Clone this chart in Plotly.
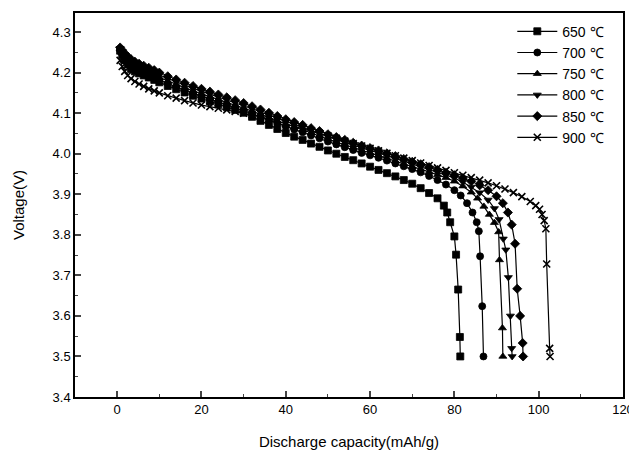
import plotly.graph_objects as go

# Shared capacity grid (mAh/g) for the plateau region
cap_common = [0.7, 1.2, 1.8, 2.5, 3.3, 4.2, 5.2, 6.3, 7.5, 8.8, 10, 12, 14, 16, 18, 20, 22, 24,
              26, 28, 30, 32, 34, 36, 38, 40, 42, 44, 46, 48, 50, 52, 54, 56, 58, 60, 62, 64,
              66, 68, 70, 72, 74, 76]

# 650 C
v_650_common = [4.254, 4.243, 4.231, 4.220, 4.209, 4.203, 4.198, 4.193, 4.188, 4.182, 4.176, 4.167,
                4.159, 4.151, 4.143, 4.136, 4.129, 4.122, 4.115, 4.108, 4.101, 4.091, 4.081, 4.071,
                4.061, 4.051, 4.042, 4.034, 4.025, 4.017, 4.008, 4.000, 3.992, 3.984, 3.976, 3.968,
                3.960, 3.952, 3.944, 3.935, 3.926, 3.915, 3.903, 3.890]
cap_650_tail = [77.5, 78.3, 79.0, 80.0, 80.4, 80.9, 81.3, 81.4]
v_650_tail = [3.872, 3.855, 3.831, 3.796, 3.751, 3.665, 3.548, 3.500]

# 700 C
v_700_common = [4.256, 4.246, 4.235, 4.225, 4.215, 4.209, 4.204, 4.199, 4.194, 4.188, 4.182, 4.173,
                4.165, 4.157, 4.149, 4.142, 4.135, 4.128, 4.121, 4.114, 4.107, 4.099, 4.091, 4.083,
                4.075, 4.067, 4.060, 4.053, 4.045, 4.038, 4.030, 4.023, 4.016, 4.009, 4.002, 3.996,
                3.990, 3.983, 3.976, 3.969, 3.962, 3.954, 3.945, 3.935]
cap_700_tail = [78, 80, 81.5, 83, 84.3, 85.3, 85.8, 86.1, 86.6, 86.9]
v_700_tail = [3.924, 3.910, 3.897, 3.878, 3.855, 3.831, 3.809, 3.747, 3.624, 3.500]

# 750 C
v_750_common = [4.258, 4.249, 4.239, 4.230, 4.221, 4.215, 4.210, 4.205, 4.200, 4.194, 4.188, 4.179,
                4.171, 4.163, 4.155, 4.148, 4.141, 4.134, 4.127, 4.120, 4.113, 4.105, 4.097, 4.089,
                4.081, 4.073, 4.066, 4.059, 4.051, 4.044, 4.036, 4.029, 4.022, 4.015, 4.008, 4.002,
                3.996, 3.989, 3.982, 3.975, 3.968, 3.962, 3.955, 3.948]
cap_750_tail = [78, 80, 82, 84, 85.5, 87, 88.3, 89.5, 90.5, 90.7, 91.4, 91.5]
v_750_tail = [3.941, 3.932, 3.920, 3.905, 3.890, 3.870, 3.850, 3.830, 3.807, 3.738, 3.570, 3.500]

# 800 C
v_800_common = [4.260, 4.252, 4.243, 4.235, 4.227, 4.221, 4.216, 4.211, 4.206, 4.200, 4.194, 4.185,
                4.177, 4.169, 4.161, 4.154, 4.147, 4.140, 4.133, 4.126, 4.119, 4.111, 4.103, 4.095,
                4.087, 4.079, 4.072, 4.065, 4.057, 4.050, 4.042, 4.035, 4.028, 4.021, 4.014, 4.008,
                4.002, 3.995, 3.988, 3.981, 3.974, 3.968, 3.961, 3.954]
cap_800_tail = [78, 80, 82, 84, 86, 88, 89.5, 90.6, 91.6, 92.2, 92.8, 93.3, 93.6, 93.7]
v_800_tail = [3.947, 3.940, 3.930, 3.918, 3.904, 3.886, 3.865, 3.838, 3.790, 3.763, 3.695, 3.600,
              3.520, 3.500]

# 850 C
v_850_common = [4.262, 4.255, 4.247, 4.240, 4.233, 4.227, 4.222, 4.217, 4.212, 4.206, 4.200, 4.191,
                4.183, 4.175, 4.167, 4.160, 4.153, 4.146, 4.139, 4.132, 4.125, 4.117, 4.109, 4.101,
                4.093, 4.085, 4.078, 4.071, 4.063, 4.056, 4.048, 4.041, 4.034, 4.027, 4.020, 4.014,
                4.008, 4.001, 3.994, 3.987, 3.980, 3.974, 3.967, 3.960]
cap_850_tail = [78, 80, 82, 84, 86, 88, 90, 91.5, 92.7, 93.6, 94.4, 94.9, 95.6, 96.2, 96.3]
v_850_tail = [3.953, 3.947, 3.940, 3.932, 3.922, 3.910, 3.895, 3.878, 3.855, 3.825, 3.778, 3.667,
              3.600, 3.533, 3.500]

# 900 C
v_900_common = [4.230, 4.215, 4.203, 4.193, 4.185, 4.178, 4.172, 4.166, 4.160, 4.155, 4.150, 4.143,
                4.137, 4.131, 4.125, 4.120, 4.116, 4.112, 4.108, 4.104, 4.100, 4.096, 4.091, 4.086,
                4.080, 4.074, 4.068, 4.062, 4.056, 4.050, 4.044, 4.038, 4.031, 4.025, 4.019, 4.013,
                4.007, 4.001, 3.995, 3.989, 3.983, 3.977, 3.971, 3.965]
cap_900_tail = [78, 80, 82, 84, 86, 88, 90, 92, 94, 96, 98, 99.3, 100.2, 100.8, 101.3, 101.7,
                101.9, 102.6, 102.7]
v_900_tail = [3.959, 3.953, 3.947, 3.941, 3.935, 3.928, 3.921, 3.913, 3.904, 3.894, 3.882, 3.872,
              3.863, 3.850, 3.835, 3.815, 3.728, 3.520, 3.500]

series_names = ["650 ℃", "700 ℃", "750 ℃", "800 ℃", "850 ℃", "900 ℃"]
x_ticks = [0, 20, 40, 60, 80, 100, 120]
y_ticks = [3.4, 3.5, 3.6, 3.7, 3.8, 3.9, 4.0, 4.1, 4.2, 4.3]

series = [
    (series_names[0], cap_common + cap_650_tail, v_650_common + v_650_tail, "square"),
    (series_names[1], cap_common + cap_700_tail, v_700_common + v_700_tail, "circle"),
    (series_names[2], cap_common + cap_750_tail, v_750_common + v_750_tail, "triangle-up"),
    (series_names[3], cap_common + cap_800_tail, v_800_common + v_800_tail, "triangle-down"),
    (series_names[4], cap_common + cap_850_tail, v_850_common + v_850_tail, "diamond"),
    (series_names[5], cap_common + cap_900_tail, v_900_common + v_900_tail, "x-thin"),
]

fig = go.Figure()
for name, xs, ys, sym in series:
    if sym == "x-thin":
        marker = dict(symbol=sym, size=7, color="black", line=dict(color="black", width=1.6))
    else:
        marker = dict(symbol=sym, size=7, color="black", line=dict(color="black", width=0.8))
    fig.add_trace(go.Scatter(
        x=xs, y=ys, name=name, mode="lines+markers",
        line=dict(color="black", width=1.2),
        marker=marker,
    ))

# The page body adds an 8px offset, so the figure is sized and margined to compensate.
font_family = "Liberation Sans, Arial, sans-serif"
fig.update_layout(
    width=629, height=445,
    margin=dict(l=67, r=14, t=5, b=56),
    paper_bgcolor="white", plot_bgcolor="white",
    font=dict(family=font_family, color="black", size=12),
    showlegend=True,
    legend=dict(x=0.975, y=0.993, xanchor="right", yanchor="top",
                bgcolor="rgba(0,0,0,0)", font=dict(size=14),
                itemwidth=40, tracegroupgap=0),
)
fig.update_xaxes(
    range=[-10, 120], tickvals=x_ticks, ticks="inside", ticklen=6, tickwidth=1.5,
    showline=True, linecolor="black", linewidth=1.5, mirror=True, showgrid=False, zeroline=False,
    minor=dict(dtick=10, tick0=0, ticks="inside", ticklen=3, tickwidth=1, showgrid=False),
    title=dict(text="Discharge capacity(mAh/g)", font=dict(size=15), standoff=20),
    tickfont=dict(size=13), automargin=False,
)
fig.update_yaxes(
    range=[3.4, 4.347], tickvals=y_ticks, tickformat=".1f", ticks="inside", ticklen=6, tickwidth=1.5,
    showline=True, linecolor="black", linewidth=1.5, mirror=True, showgrid=False, zeroline=False,
    minor=dict(dtick=0.05, tick0=3.4, ticks="inside", ticklen=3, tickwidth=1, showgrid=False),
    title=dict(text="Voltage(V)", font=dict(size=15), standoff=24),
    tickfont=dict(size=13), automargin=False,
)

fig.write_html("out.html")
